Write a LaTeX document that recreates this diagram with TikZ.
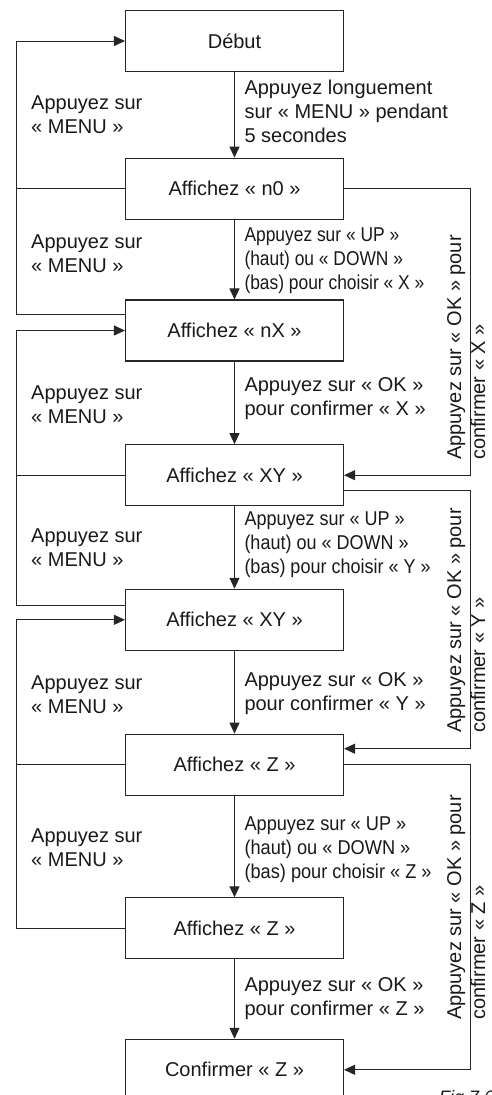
\documentclass[tikz,border=0pt]{standalone}
\usepackage{fontspec}
\setmainfont{Liberation Sans}
\newfontfamily\condA[FakeStretch=0.87]{Liberation Sans}
\newfontfamily\condB[FakeStretch=0.90]{Liberation Sans}
\newfontfamily\condC[FakeStretch=0.91]{Liberation Sans}
\usetikzlibrary{arrows.meta}
\begin{document}
\begin{tikzpicture}[x=1bp,y=-1bp,
  every node/.style={font=\fontsize{20bp}{24bp}\selectfont, text=black!90},
  box/.style={draw=black!85, line width=1.1bp, minimum width=218bp, minimum height=61bp, inner sep=0pt},
  conn/.style={draw=black!85, line width=1bp},
  arr/.style={conn, -{Triangle[length=11bp,width=10bp]}},
  lbl/.style={anchor=west, align=left, inner sep=0pt},
  rlbl/.style={rotate=90, anchor=north west, align=left, inner sep=0pt}]
\useasboundingbox (0,0) rectangle (492,1095);
\clip (0,0) rectangle (492,1095);
\coordinate (L) at (16,0);
\coordinate (R) at (470.5,0);
% boxes
\node[box] (debut) at (234.5,41) {Début};
\node[box] (n0) at (234.5,188.7) {Affichez « n0 »};
\node[box] (nX) at (234.5,330.5) {Affichez « nX »};
\node[box] (xy1) at (234.5,475.2) {Affichez « XY »};
\node[box] (xy2) at (234.5,619.8) {Affichez « XY »};
\node[box] (z1) at (234.5,764.7) {Affichez « Z »};
\node[box] (z2) at (234.5,928.3) {Affichez « Z »};
\node[box] (conf) at (234.5,1069.8) {Confirmer « Z »};
% down arrows
\draw[arr] (debut) -- (n0);
\draw[arr] (n0) -- (nX);
\draw[arr] (nX) -- (xy1);
\draw[arr] (xy1) -- (xy2);
\draw[arr] (xy2) -- (z1);
\draw[arr] (z1) -- (z2);
\draw[arr] (z2) -- (conf);
% left loops
\draw[arr] (n0.west) -- (n0.west -| L) |- (debut.west);
\draw[conn] ([yshift=16bp]nX.west) -- ([yshift=16bp]nX.west -| L) -- (n0.west -| L);
\draw[arr] ([yshift=14bp]xy2.west) -- ([yshift=14bp]xy2.west -| L) |- (nX.west);
\draw[conn] (xy1.west) -- (xy1.west -| L);
\draw[arr] (z2.west) -- (z2.west -| L) |- (xy2.west);
\draw[conn] (z1.west) -- (z1.west -| L);
% right loops
\draw[arr] (n0.east) -- (n0.east -| R) |- (xy1.east);
\draw[arr] ([yshift=-15.5bp]xy1.east) -- ([yshift=-15.5bp]xy1.east -| R) |- ([yshift=16bp]z1.east);
\draw[arr] (z1.east) -- (z1.east -| R) |- (conf.east);
% left labels
\node[lbl] (m1) at (31,115) {Appuyez sur\\« MENU »};
\node[lbl] (m2) at (31,254) {Appuyez sur\\« MENU »};
\node[lbl] (m3) at (31,405) {Appuyez sur\\« MENU »};
\node[lbl] (m4) at (31,548) {Appuyez sur\\« MENU »};
\node[lbl] (m5) at (31,695) {Appuyez sur\\« MENU »};
\node[lbl] (m6) at (31,848) {Appuyez sur\\« MENU »};
% right labels
\node[lbl] (t1) at (244.3,111) {Appuyez longuement\\sur « MENU » pendant\\5 secondes};
\node[lbl,font=\fontsize{20bp}{24bp}\condA] (t2) at (244.3,260.5) {Appuyez sur « UP »\\(haut) ou « DOWN »\\(bas) pour choisir « X »};
\node[lbl] (t3) at (244.3,399) {Appuyez sur « OK »\\pour confirmer « X »};
\node[lbl,font=\fontsize{20bp}{24bp}\condB] (t4) at (244.3,545) {Appuyez sur « UP »\\(haut) ou « DOWN »\\(bas) pour choisir « Y »};
\node[lbl] (t5) at (244.3,694) {Appuyez sur « OK »\\pour confirmer « Y »};
\node[lbl,font=\fontsize{20bp}{24bp}\condC] (t6) at (244.3,850) {Appuyez sur « UP »\\(haut) ou « DOWN »\\(bas) pour choisir « Z »};
\node[lbl] (t7) at (244.3,998.5) {Appuyez sur « OK »\\pour confirmer « Z »};
% rotated labels
\node[rlbl] (r1) at (447,460) {Appuyez sur « OK » pour\\confirmer « X »};
\node[rlbl] (r2) at (447,733) {Appuyez sur « OK » pour\\confirmer « Y »};
\node[rlbl] (r3) at (447,1020) {Appuyez sur « OK » pour\\confirmer « Z »};
% figure caption (cut by the frame, as in the reference)
\node[anchor=base west, inner sep=0pt, font=\fontsize{18bp}{20bp}\selectfont\itshape] (fig) at (439,1103) {Fig 7.6};
\end{tikzpicture}
\end{document}
